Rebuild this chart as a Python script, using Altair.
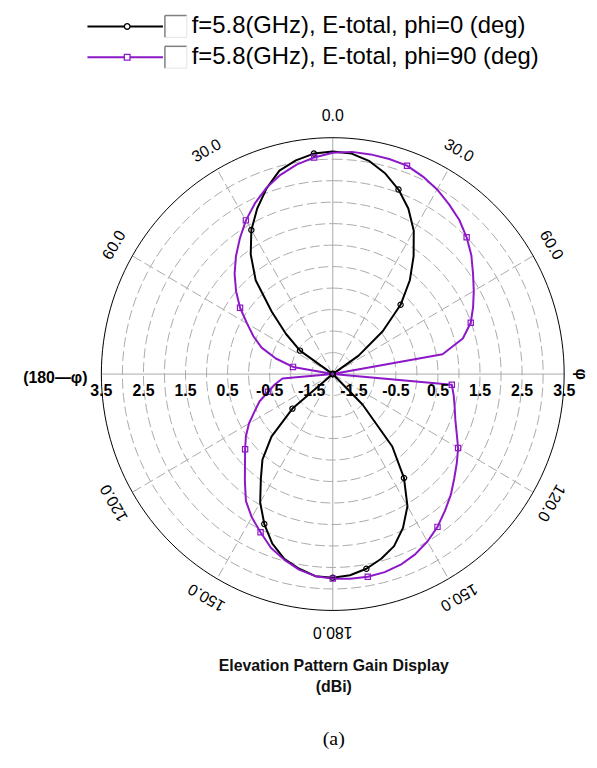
import altair as alt
import pandas as pd

# ---------------- data ----------------
theta_deg = list(range(-180, 181, 5))

gain_phi0 = [
    2.74, 2.72, 2.60, 2.45, 2.20, 1.85, 1.45, 0.98, 0.60, 0.06, -0.75,          # -180..-130
    -2.0, -2.0, -2.0, -2.0, -2.0, -2.0, -2.0, -2.0, -2.0, -2.0, -2.0, -2.0, -2.0, -2.0,  # -125..-60
    -1.05, -0.55, 0.05, 0.85, 1.40, 1.87, 2.25, 2.60, 2.90, 3.05, 3.15,          # -55..-5
    3.18, 3.15, 3.03, 2.83, 2.57, 2.25, 1.85, 1.35, 0.85, 0.28, -0.45, -1.25,    # 0..55
    -2.0, -2.0, -2.0, -2.0, -2.0, -2.0, -2.0, -2.0, -2.0, -2.0, -2.0, -2.0, -2.0, -2.0, -2.0,  # 60..130
    -1.0, 0.20, 0.95, 1.55, 1.95, 2.26, 2.45, 2.60, 2.70, 2.74,                  # 135..180
]

gain_phi90 = [
    2.76, 2.72, 2.62, 2.47, 2.30, 2.06, 1.85, 1.60, 1.25, 0.95, 0.72, 0.52,
    0.30, 0.05, -0.15, -0.41, -0.60, -0.80,                                      # -180..-95
    -2.0, -2.0,                                                                  # -90, -85
    -1.04, -0.60, -0.20, 0.08, 0.35, 0.69, 1.00, 1.30, 1.58, 1.85, 2.13, 2.38,
    2.61, 2.80, 2.95, 3.06,                                                      # -80..-5
    3.15, 3.19, 3.19, 3.18, 3.16, 3.07, 2.96, 2.82, 2.68, 2.50, 2.30, 2.07,
    1.87, 1.68, 1.49, 1.20, 0.65,                                                # 0..80
    -2.0, -2.0,                                                                  # 85, 90
    0.84, 0.92, 1.00, 1.10, 1.25, 1.44, 1.60, 1.77, 1.97, 2.15, 2.34, 2.50,
    2.63, 2.72, 2.77, 2.79, 2.78, 2.76,                                          # 95..180
]

series_names = ["f=5.8(GHz), E-total, phi=0 (deg)", "f=5.8(GHz), E-total, phi=90 (deg)"]
series_colors = ["#000000", "#8C18C8"]
series_shapes = ["circle", "square"]

r_min = -2.0          # gain at the centre
r_max = 3.5           # gain at the outer circle
ring_gain = [-1.5, -1.0, -0.5, 0.0, 0.5, 1.0, 1.5, 2.0, 2.5, 3.0]
radial_labels = [3.5, 2.5, 1.5, 0.5, -0.5, -1.5]
angle_ticks = [0, 30, 60, 120, 150, 180, -30, -60, -120, -150]
angle_texts = ["0.0", "30.0", "60.0", "120.0", "150.0", "180.0", "30.0", "60.0", "120.0", "150.0"]
side_ticks = [90, -90]
side_texts = ["φ", "(180—φ)"]
spoke_angles = [30, 60, 120, 150, 210, 240, 300, 330]
axis_angles = [0, 90, 180, 270]
marker_every = 25
title_lines = ["Elevation Pattern Gain Display", "(dBi)"]
caption = "(a)"

# ---------------- tables ----------------
curve_df = pd.concat([
    pd.DataFrame({"theta": theta_deg, "gain": gain_phi0, "series": series_names[0]}),
    pd.DataFrame({"theta": theta_deg, "gain": gain_phi90, "series": series_names[1]}),
])
span = r_max - r_min
ring_df = pd.DataFrame([(g, a) for g in ring_gain + [r_max] for a in range(0, 361, 2)],
                       columns=["gain", "theta"])
spoke_df = pd.DataFrame([(a, g) for a in spoke_angles + axis_angles for g in (r_min, r_max)],
                        columns=["theta", "gain"])
spoke_df["kind"] = ["axis" if a in axis_angles else "spoke" for a in spoke_df["theta"]]
rlab_df = pd.DataFrame([(g, s) for g in radial_labels for s in (-90, 90)], columns=["gain", "theta"])
rlab_df["label"] = [f"{g:.1f}" for g in rlab_df["gain"]]
alab_df = pd.DataFrame({"theta": angle_ticks, "label": angle_texts})
slab_df = pd.DataFrame({"theta": side_ticks, "label": side_texts})

xs = alt.Scale(domain=[-span, span], nice=False, zero=False)
ys = alt.Scale(domain=[-span, span], nice=False, zero=False)

def polar(chart, rexpr="max(datum.gain - (%s), 0)" % r_min):
    return chart.transform_calculate(
        r=rexpr,
        px="datum.r * sin(datum.theta * PI / 180)",
        py="datum.r * cos(datum.theta * PI / 180)",
    )

X = alt.X("px:Q", scale=xs, axis=None)
Y = alt.Y("py:Q", scale=ys, axis=None)
FONT = "Liberation Sans"

rings = polar(alt.Chart(ring_df)).transform_filter(f"datum.gain < {r_max}").mark_line(
    color="#a9a9a9", strokeWidth=1, strokeDash=[10, 4]
).encode(x=X, y=Y, detail="gain:N", order="theta:Q")

outer = polar(alt.Chart(ring_df)).transform_filter(f"datum.gain >= {r_max}").mark_line(
    color="#000000", strokeWidth=1
).encode(x=X, y=Y, detail="gain:N", order="theta:Q")

spokes = polar(alt.Chart(spoke_df)).transform_filter("datum.kind == 'spoke'").mark_line(
    color="#a9a9a9", strokeWidth=1, strokeDash=[10, 4]
).encode(x=X, y=Y, detail="theta:N", order="gain:Q")

axes = polar(alt.Chart(spoke_df)).transform_filter("datum.kind == 'axis'").mark_line(
    color="#a9a9a9", strokeWidth=1
).encode(x=X, y=Y, detail="theta:N", order="gain:Q")

color_enc = alt.Color("series:N", scale=alt.Scale(domain=series_names, range=series_colors), legend=None)
shape_enc = alt.Shape("series:N", scale=alt.Scale(domain=series_names, range=series_shapes), legend=None)

lines = polar(alt.Chart(curve_df)).mark_line(strokeWidth=2, strokeJoin="round").encode(
    x=X, y=Y, color=color_enc, detail="series:N", order="theta:Q"
)
markers = polar(alt.Chart(curve_df)).transform_filter(
    f"(datum.theta + 180) % {marker_every} == 0"
).mark_point(filled=False, size=28, strokeWidth=1.2, opacity=1).encode(
    x=X, y=Y, color=color_enc, shape=shape_enc
)

rlabels = polar(alt.Chart(rlab_df)).mark_text(
    font=FONT, fontSize=16, fontWeight="bold", dy=17, baseline="middle", align="center", color="#000"
).encode(x=X, y=Y, text="label:N")

alabels = polar(alt.Chart(alab_df), rexpr="%s" % (span + 0.5)).transform_calculate(
    rot="(datum.theta + 360) % 360"
).mark_text(font=FONT, fontSize=16, baseline="middle", align="center", color="#000").encode(
    x=X, y=Y, text="label:N", angle=alt.Angle("rot:Q", scale=None)
)

slab_right = polar(alt.Chart(slab_df), rexpr="%s" % (span + 0.4)).transform_filter(
    "datum.theta > 0").mark_text(
    font=FONT, fontSize=16, fontWeight="bold", baseline="middle", align="center", angle=90, color="#000"
).encode(x=X, y=Y, text="label:N")

slab_left = polar(alt.Chart(slab_df), rexpr="%s" % (span + 0.33)).transform_filter(
    "datum.theta < 0").mark_text(
    font=FONT, fontSize=16, fontWeight="bold", baseline="middle", align="right", dy=4, color="#000"
).encode(x=X, y=Y, text="label:N")

# ---------------- legend and titles (decoration, pixel placed) ----------------
one = pd.DataFrame({"k": [0]})
deco = []
for i, (name, col, shp) in enumerate(zip(series_names, series_colors, series_shapes)):
    yy = -112 + 31 * i
    deco.append(alt.Chart(one).mark_rule(color=col, strokeWidth=2).encode(
        x=alt.value(-14), x2=alt.value(62), y=alt.value(yy)))
    deco.append(alt.Chart(one).mark_point(shape=shp, filled=True, fill="white", stroke=col,
                                          size=32, strokeWidth=1.3, opacity=1).encode(
        x=alt.value(26), y=alt.value(yy)))
    deco.append(alt.Chart(one).mark_rule(color="#7f7f7f", strokeWidth=1.5).encode(
        x=alt.value(64), x2=alt.value(86), y=alt.value(yy - 11)))
    deco.append(alt.Chart(one).mark_rule(color="#7f7f7f", strokeWidth=1.5).encode(
        x=alt.value(64), y=alt.value(yy - 11), y2=alt.value(yy + 11)))
    deco.append(alt.Chart(one).mark_rule(color="#e3e3e3", strokeWidth=1).encode(
        x=alt.value(64), x2=alt.value(86), y=alt.value(yy + 11)))
    deco.append(alt.Chart(one).mark_rule(color="#e3e3e3", strokeWidth=1).encode(
        x=alt.value(86), y=alt.value(yy - 11), y2=alt.value(yy + 11)))
    deco.append(alt.Chart(one).mark_text(font=FONT, fontSize=24, align="left", baseline="middle",
                                         color="#000").encode(
        x=alt.value(91), y=alt.value(yy), text=alt.value(name)))

for j, t in enumerate(title_lines):
    deco.append(alt.Chart(one).mark_text(font=FONT, fontSize=16, fontWeight="bold", align="center",
                                         baseline="middle", color="#111").encode(
        x=alt.value(234), y=alt.value(532 + 21 * j), text=alt.value(t)))
deco.append(alt.Chart(one).mark_text(font="Liberation Serif", fontSize=20, align="center",
                                     baseline="middle", color="#000").encode(
    x=alt.value(234), y=alt.value(605), text=alt.value(caption)))

chart = alt.layer(
    rings, spokes, axes, outer, lines, markers, rlabels, alabels, slab_right, slab_left, *deco
).properties(
    width=466, height=476,
    padding={"left": 94, "top": 128, "right": 25, "bottom": 148},
    autosize=alt.AutoSizeParams(type="none"),
).configure_view(stroke=None)

chart.save("out.html", embed_options={"renderer": "svg", "actions": False})
